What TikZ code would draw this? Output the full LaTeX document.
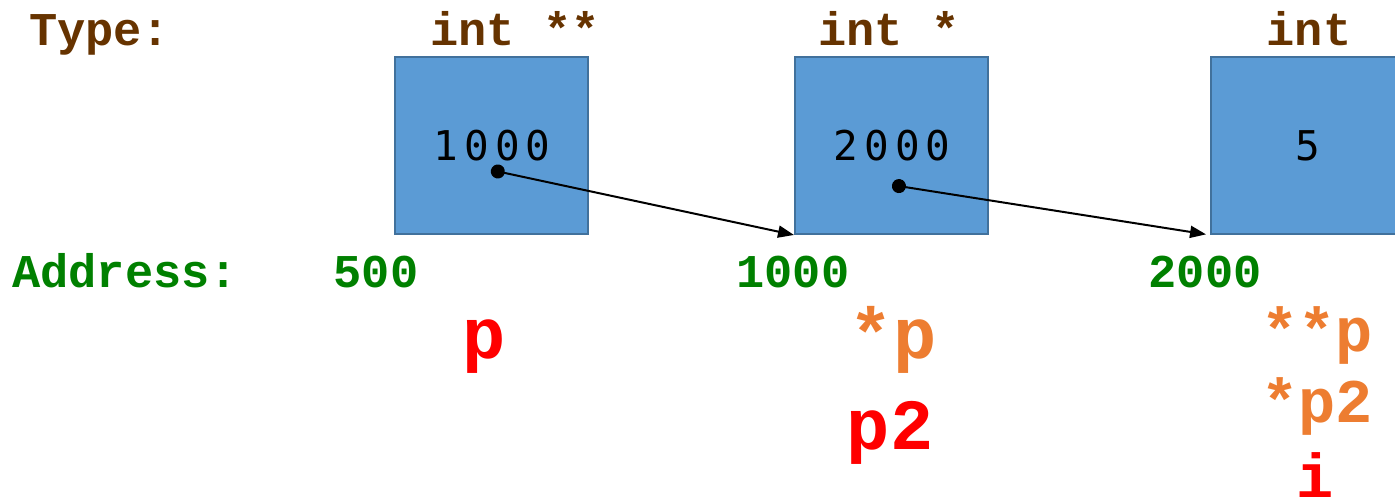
\documentclass[tikz,border=0pt]{standalone}
\usepackage{fontspec}
\setmainfont{Liberation Mono}
\newfontfamily\codefont{Liberation Mono}
\newfontfamily\valfont[LetterSpace=15]{DejaVu Sans Mono}
\usetikzlibrary{arrows.meta}
\definecolor{typebrown}{RGB}{102,51,0}
\definecolor{addrgreen}{RGB}{0,128,0}
\definecolor{varred}{RGB}{255,0,0}
\definecolor{derefor}{RGB}{237,125,49}
\definecolor{boxfill}{RGB}{91,155,213}
\definecolor{boxline}{RGB}{65,113,156}
\tikzset{
  cell/.style={draw=boxline, line width=2pt, fill=boxfill, minimum width=193pt, minimum height=177pt, inner sep=0pt},
  val/.style={font=\valfont\fontsize{41}{41}\selectfont, text=black, inner sep=0pt},
  typelbl/.style={font=\codefont\bfseries\fontsize{47}{47}\selectfont, text=typebrown, inner sep=0pt},
  addr/.style={font=\codefont\bfseries\fontsize{47}{47}\selectfont, text=addrgreen, inner sep=0pt},
  bigvar/.style={font=\codefont\bfseries\fontsize{72}{72}\selectfont, inner sep=0pt},
  midvar/.style={font=\codefont\bfseries\fontsize{62}{62}\selectfont, inner sep=0pt},
  ptr/.style={line width=2pt, {Circle[length=14pt]}-{Triangle[length=16pt,width=12pt]}},
}
\begin{document}
\begin{tikzpicture}[x=1pt,y=-1pt]
\useasboundingbox (0,0) rectangle (1395,500);
% boxes
\node[cell] (box1) at (491.5,145.5) {};
\node[cell] (box2) at (891.5,145.5) {};
\node[cell] (box3) at (1307.5,145.5) {};
% values
\node[val] (v1) at (492,146) {1000};
\node[val] (v2) at (892,146) {2000};
\node[val] (v3) at (1308,146) {5};
% types
\node[typelbl, anchor=base west] (tlabel) at (29,46) {Type:};
\node[typelbl, anchor=base] (t1) at (515,46) {int **};
\node[typelbl, anchor=base] (t2) at (889,46) {int *};
\node[typelbl, anchor=base] (t3) at (1309,46) {int};
% addresses
\node[addr, anchor=base west] (alabel) at (12,287) {Address:};
\node[addr, anchor=base] (a1) at (376,287) {500};
\node[addr, anchor=base] (a2) at (793,287) {1000};
\node[addr, anchor=base] (a3) at (1205,287) {2000};
% names
\node[bigvar, anchor=base, text=varred] (n1) at (484,358) {p};
\node[bigvar, anchor=base, text=derefor] (n2) at (893,358) {*p};
\node[bigvar, anchor=base, text=varred] (n3) at (890,449) {p2};
\node[midvar, anchor=base, text=derefor] (n4) at (1317,351) {**p};
\node[midvar, anchor=base, text=derefor] (n5) at (1317,422) {*p2};
\node[midvar, anchor=base, text=varred] (n6) at (1315,497) {i};
% pointers
\coordinate (d1) at (491,170);
\coordinate (d2) at (892,185);
\draw[ptr] (d1) -- (box2.south west);
\draw[ptr, shorten >=4pt] (d2) -- (box3.south west);
\end{tikzpicture}
\end{document}
